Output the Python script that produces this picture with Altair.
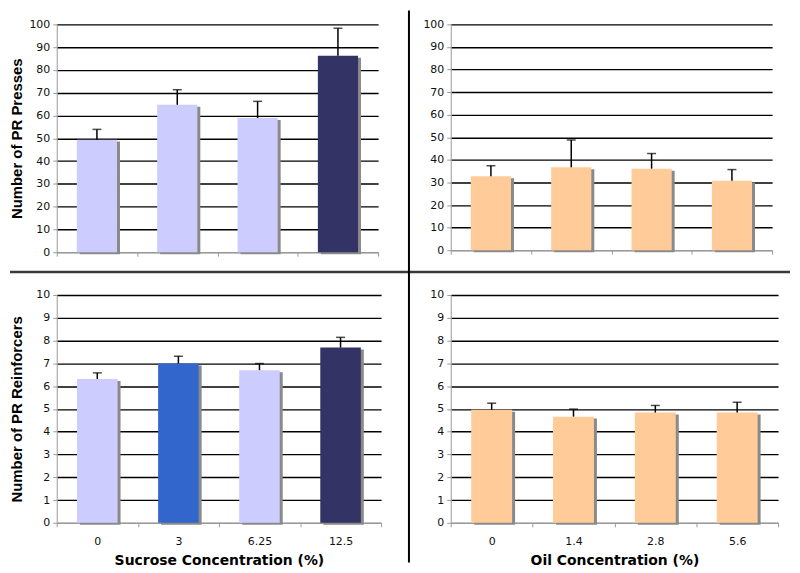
import altair as alt
import pandas as pd

# ---------------- data ----------------
sucrose_conc = ["0", "3", "6.25", "12.5"]
oil_conc = ["0", "1.4", "2.8", "5.6"]

sucrose_presses = [49.4, 64.7, 58.9, 86.2]
sucrose_presses_upper = [53.9, 71.3, 66.2, 98.3]
sucrose_presses_group = ["sucrose n.s.", "sucrose n.s.", "sucrose n.s.", "sucrose p<0.01"]

oil_presses = [32.7, 36.7, 36.1, 30.8]
oil_presses_upper = [37.4, 48.8, 42.8, 35.7]
oil_group = ["oil", "oil", "oil", "oil"]

sucrose_reinf = [6.31, 6.99, 6.70, 7.69]
sucrose_reinf_upper = [6.58, 7.31, 6.99, 8.14]
sucrose_reinf_group = ["sucrose n.s.", "sucrose p<0.05", "sucrose n.s.", "sucrose p<0.01"]

oil_reinf = [4.96, 4.66, 4.84, 4.84]
oil_reinf_upper = [5.25, 4.99, 5.15, 5.29]

group_names = ["sucrose n.s.", "sucrose p<0.05", "sucrose p<0.01", "oil"]
group_colors = ["#CCCCFF", "#3366CC", "#333366", "#FFCC99"]

x_titles = ["Sucrose Concentration (%)", "Oil Concentration (%)"]
y_titles = ["Number of PR Presses", "Number of PR Reinforcers"]

GRID_COLOR = {"condition": {"test": "datum.value === 0", "value": "#9a9a9a"}, "value": "#000000"}


def panel(cats, vals, uppers, groups, w, h, ymax, ystep, ytitle, xtitle,
          show_labels, ytitle_pad, decor=None):
    df = pd.DataFrame({"conc": cats, "value": vals, "upper": uppers, "group": groups})

    xaxis_kw = dict(tickBand="extent", labelAngle=0, labels=show_labels,
                    domainColor="#9a9a9a", tickColor="#9a9a9a", tickSize=4,
                    labelFont="DejaVu Sans", labelFontSize=11, labelColor="#111111",
                    labelPadding=9, grid=False,
                    titleFont="DejaVu Sans", titleFontSize=14, titleFontWeight="bold",
                    titleColor="#000000", titlePadding=7)
    xaxis_kw["title"] = xtitle if xtitle else None
    x = alt.X("conc:N", sort=cats, scale=alt.Scale(paddingInner=0, paddingOuter=0),
              axis=alt.Axis(**xaxis_kw))

    yaxis_kw = dict(values=list(range(0, ymax + 1, ystep)), domainColor="#9a9a9a",
                    tickColor="#9a9a9a", tickSize=4, labelFont="DejaVu Sans",
                    labelFontSize=11, labelColor="#111111", labelPadding=3,
                    grid=True, gridColor=GRID_COLOR, gridWidth=1.4,
                    titleFont="Liberation Sans", titleFontSize=15, titleFontWeight="bold",
                    titleColor="#000000", titlePadding=ytitle_pad)
    yaxis_kw["title"] = ytitle if ytitle else None
    yaxis = alt.Axis(**yaxis_kw)
    yscale = alt.Scale(domain=[0, ymax], nice=False)

    base = alt.Chart(df)
    shadow = base.mark_bar(color="#8a8a8a", xOffset=3, x2Offset=3, yOffset=2,
                           width=alt.RelativeBandSize(0.5)).encode(
        x=x, y=alt.Y("value:Q", scale=yscale, axis=yaxis))
    bars = base.mark_bar(width=alt.RelativeBandSize(0.5)).encode(
        x=x, y=alt.Y("value:Q", scale=yscale, axis=yaxis),
        color=alt.Color("group:N", scale=alt.Scale(domain=group_names, range=group_colors),
                        legend=None))
    err = base.mark_rule(color="#000000", strokeWidth=1.5).encode(
        x=x, y=alt.Y("value:Q", scale=yscale, axis=yaxis), y2="upper:Q")
    cap = base.mark_tick(color="#000000", thickness=1.5, size=9).encode(
        x=x, y=alt.Y("upper:Q", scale=yscale, axis=yaxis))

    layers = [shadow, bars, err, cap]
    if decor:
        layers += decor
    return alt.layer(*layers).properties(width=w, height=h)


one = pd.DataFrame({"k": [0]})
# divider lines between the four panels (pixel positions relative to top-left plot)
hdiv = alt.Chart(one).mark_rule(color="#3b3b33", strokeWidth=2.5).encode(
    x=alt.value(-47), x2=alt.value(737), y=alt.value(249))
vdiv = alt.Chart(one).mark_rule(color="#000000", strokeWidth=2).encode(
    x=alt.value(354), y=alt.value(-14), y2=alt.value(541))

A = panel(sucrose_conc, sucrose_presses, sucrose_presses_upper, sucrose_presses_group,
          323, 229, 100, 10, y_titles[0], None, False, 4, decor=[hdiv, vdiv])
B = panel(oil_conc, oil_presses, oil_presses_upper, oil_group,
          323, 227, 100, 10, None, None, False, 4)
C = panel(sucrose_conc, sucrose_reinf, sucrose_reinf_upper, sucrose_reinf_group,
          326, 229, 10, 1, y_titles[1], x_titles[0], True, 11)
D = panel(oil_conc, oil_reinf, oil_reinf_upper, oil_group,
          329, 229, 10, 1, None, x_titles[1], True, 4)

chart = alt.concat(A, B, C, D, columns=2, spacing={"row": 43, "column": 70},
                   bounds="flush", align="none").properties(
    padding=0, background="#ffffff").configure_view(stroke=None)

chart.save("out.html", embed_options={"renderer": "svg", "actions": False})
